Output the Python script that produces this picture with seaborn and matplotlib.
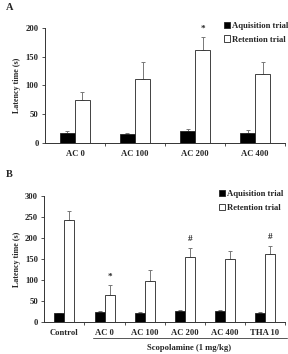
import numpy as np
import pandas as pd
import matplotlib
matplotlib.use("Agg")
import matplotlib.pyplot as plt
import seaborn as sns
from matplotlib.ticker import FixedLocator

# ---- data ----
trials = ["Aquisition trial", "Retention trial"]

groups_a = ["AC 0", "AC 100", "AC 200", "AC 400"]
acq_a = [17.5, 14.5, 21, 17.5]
acq_a_err = [3, 3, 2, 4.5]
ret_a = [74.5, 111, 162, 120]
ret_a_err = [13, 30, 23, 20]
marks_a = ["", "", "*", ""]

groups_b = ["Control", "AC 0", "AC 100", "AC 200", "AC 400", "THA 10"]
acq_b = [20, 23, 21.5, 25.5, 25.5, 21.5]
acq_b_err = [1.5, 2, 2, 2, 2, 1.5]
ret_b = [243, 64.5, 98, 155, 149.5, 161.5]
ret_b_err = [22, 22, 25, 21, 20, 19]
marks_b = ["", "*", "", "#", "", "#"]

sns.set_style("ticks")
plt.rcParams["font.family"] = ["Liberation Serif", "DejaVu Serif"]
plt.rcParams["font.weight"] = "bold"

fig = plt.figure(figsize=(2.88, 3.54), dpi=100)
ax_a = fig.add_axes([0.156, 0.597, 0.834, 0.324])
ax_b = fig.add_axes([0.154, 0.0912, 0.836, 0.355])

palette = {"Aquisition trial": "black", "Retention trial": "white"}
fs = 6.2


def panel(ax, groups, acq, acq_err, ret, ret_err, marks, ymax, ystep):
    df = pd.DataFrame({
        "group": groups * 2,
        "trial": [trials[0]] * len(groups) + [trials[1]] * len(groups),
        "value": list(acq) + list(ret),
    })
    sns.barplot(data=df, x="group", y="value", hue="trial", order=groups,
                hue_order=trials, palette=palette, width=0.5, gap=0,
                edgecolor="#222222", linewidth=0.6, errorbar=None, ax=ax)
    errs = [acq_err, ret_err]
    for cont, err in zip(ax.containers, errs):
        xs = [p.get_x() + p.get_width() / 2 for p in cont.patches]
        hs = [p.get_height() for p in cont.patches]
        ax.errorbar(xs, hs, yerr=[np.zeros(len(err)), err], fmt="none",
                    ecolor="#777777", elinewidth=0.7, capsize=1.6,
                    capthick=0.7, zorder=0)
    # significance marks
    ret_cont = ax.containers[1]
    for p, e, m in zip(ret_cont.patches, ret_err, marks):
        if m:
            ax.text(p.get_x() + p.get_width() / 2,
                    p.get_height() + e + ymax * 0.07, m,
                    ha="center", va="center", fontsize=fs + 0.5,
                    fontweight="bold", clip_on=False)
    n = len(groups)
    ax.set_xlim(-0.5, n - 0.5)
    ax.set_ylim(0, ymax)
    ax.set_yticks(np.arange(0, ymax + 1, ystep))
    ax.xaxis.set_minor_locator(FixedLocator(np.arange(0.5, n, 1.0)))
    ax.tick_params(axis="x", which="major", length=0, labelsize=fs, pad=5)
    ax.tick_params(axis="x", which="minor", length=2.5, width=0.6,
                   direction="out", color="#333333")
    ax.tick_params(axis="y", length=2.5, width=0.6, labelsize=fs, pad=2,
                   color="#333333")
    for lab in ax.get_xticklabels() + ax.get_yticklabels():
        lab.set_fontweight("bold")
    ax.set_xlabel("")
    ax.set_ylabel("Latency time (s)", fontsize=fs - 0.4, fontweight="bold",
                  labelpad=3)
    for s in ["top", "right"]:
        ax.spines[s].set_visible(False)
    for s in ["left", "bottom"]:
        ax.spines[s].set_linewidth(0.7)
        ax.spines[s].set_color("#333333")
    ax.legend_.remove()


panel(ax_a, groups_a, acq_a, acq_a_err, ret_a, ret_a_err, marks_a, 200, 50)
panel(ax_b, groups_b, acq_b, acq_b_err, ret_b, ret_b_err, marks_b, 300, 50)

for ax, x, y in [(ax_a, 0.777, 0.937), (ax_b, 0.760, 0.462)]:
    fig.legend(ax.containers, trials, loc="upper left",
               bbox_to_anchor=(x, y),
               frameon=False, handlelength=0.7,
               handleheight=0.7, handletextpad=0.2, labelspacing=0.6,
               borderaxespad=0, borderpad=0,
               prop={"weight": "bold", "size": fs})

fig.text(0.022, 0.978, "A", fontsize=7.5, fontweight="bold", va="center")
fig.text(0.022, 0.506, "B", fontsize=7.5, fontweight="bold", va="center")

# scopolamine bracket
fig.add_artist(plt.Line2D([0.322, 0.995], [1 - 338 / 354, 1 - 338 / 354],
                          color="#555555", lw=0.7))
fig.text(0.657, 1 - 348 / 354, "Scopolamine (1 mg/kg)", ha="center",
         va="center", fontsize=fs, fontweight="bold")

fig.savefig("out.png", dpi=100)
